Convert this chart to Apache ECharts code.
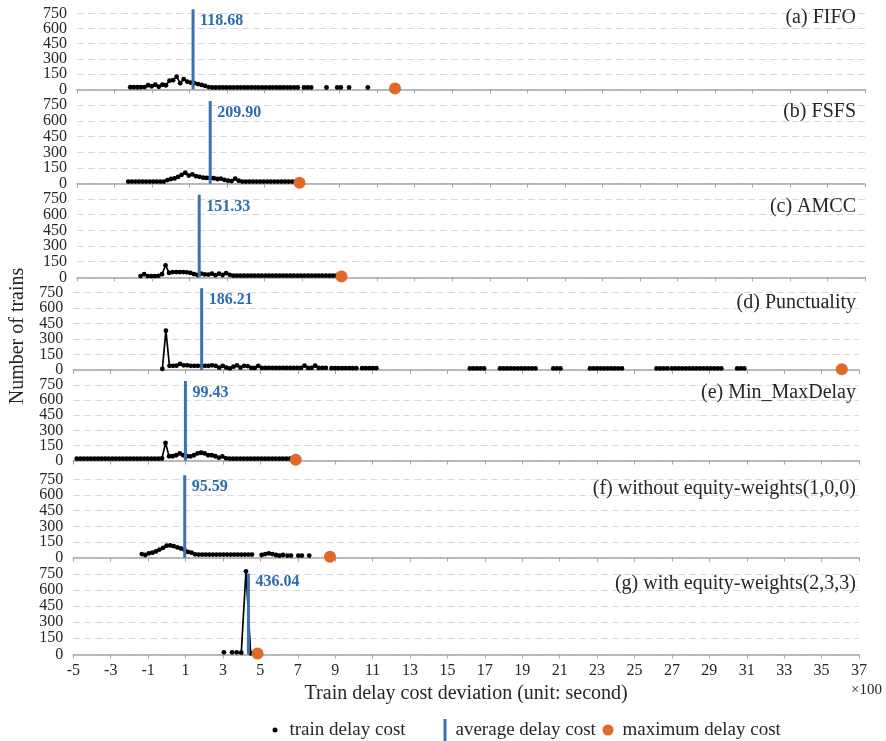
<!DOCTYPE html>
<html><head><meta charset="utf-8">
<script src="https://cdn.jsdelivr.net/npm/echarts@6/dist/echarts.min.js"></script>
<style>html,body{margin:0;padding:0;background:#fff}#c{width:886px;height:741px}</style>
</head><body><div id="c"></div>
<script>
// ---------------- data ----------------
const panelTitles = ['(a) FIFO','(b) FSFS','(c) AMCC','(d) Punctuality','(e) Min_MaxDelay','(f) without equity-weights(1,0,0)','(g) with equity-weights(2,3,3)'];
const avgDelay = [118.68, 209.90, 151.33, 186.21, 99.43, 95.59, 436.04];      // seconds
const maxDelayX = [11.95, 6.86, 9.10, 36.08, 6.89, 8.72, 4.85];               // ×100 s
const xTickLabels = [-5,-3,-1,1,3,5,7,9,11,13,15,17,19,21,23,25,27,29,31,33,35,37];
const yTickLabels = [0,150,300,450,600,750];
const binWidth = [0.19,0.19,0.19,0.19,0.19,0.19,0.25];                         // ×100 s
// runs of consecutive bins: [first bin x (×100 s), [number of trains ...]]
const runsA = [
  [-2.16,[20,20,20,20,22,40,30,45,25,45,40,85,90,125,60,100,75,65,60,52,43,33,22,
          18,18,18,18,18,18,18,18,18,18,18,18,18,18,18,18,18,18,18,18,18,18,18,18,18]],
  [7.10,[18,18,18]],[8.30,[18]],[8.87,[18,18]],[9.50,[18]],[10.50,[18]]
];
const runsB = [
  [-2.27,[20,20,20,20,20,20,20,20,20,20,20,
          35,45,50,65,85,105,78,90,72,66,58,55,55,52,45,48,36,28,25,48,28,
          20,20,20,20,20,20,20,20,20,20,20,20,20,20,20,20]]
];
const runsC = [
  [-1.61,[12,30,12,12,12,14,30,115,42,50,50,50,50,48,42,30,22,35,28,26,35,20,35,22,40,24,
          16,16,16,16,16,16,16,16,16,16,16,16,16,16,16,16,16,16,16,16,16,16,16,16,16,16,16,16,16,16]]
];
const runsD = [
  [-0.24,[10,380,40,40,42,60,45,45,40,40,40,40,40,40,45,40,22,40,22,15,32,45,22,40,38,20,20,40,
          20,20,20,20,20,20,20,20,20,20,20,20,42,20,20,42,20,20,20]],
  [8.80,[18,18,18,18,18,18,18,18]],[10.44,[18,18,18,18,18]],
  [16.20,[15,15,15,15,15]],[17.81,[15,15,15,15,15,15,15,15,15,15,15]],[20.66,[15,15,15]],
  [22.62,[15,15,15,15,15,15,15,15,15,15]],[26.18,[15,15,15,15]],
  [26.98,[15,15,15,15,15,15,15,15,15,15,15,15,15,15,15]],[30.49,[15,15,15]],[35.90,[15]]
];
const runsE = [
  [-4.82,[18,18,18,18,18,18,18,18,18,18,18,18,18,18,18,18,18,18,18,18,18,18,18,18,
          20,175,42,42,52,70,52,42,40,52,70,77,70,52,52,42,28,40,22,
          18,18,18,18,18,18,18,18,18,18,18,18,18,18,18,18,18,18]]
];
const runsF = [
  [-1.34,[35,26,42,48,60,78,95,115,118,110,98,88,75,55,48,32,
          30,30,30,30,30,30,30,30,30,30,30,30,30,30,30,30]],
  [5.07,[26,35,42,35,26,19,26]],[6.45,[20,20]],[7.03,[20,20]],[7.61,[20]]
];
const runsG = [
  [3.05,[18]],[3.49,[18]],[3.73,[18,15,775,10]]
];
const panelRuns = [runsA, runsB, runsC, runsD, runsE, runsF, runsG];

// ---------------- layout ----------------
const FONT = '"Liberation Serif","Times New Roman",serif';
const TXT = '#262626';
const gridLeft = [77,77,77,73.3,73.3,73.3,73.3];
const gridRight = [21,21,21,27,27,27,27];
const zeroY = [89.3,183.7,277.3,370,460.5,557.7,654.3];
const h750 = [76,78.5,78.3,77.7,75.5,78.3,80.3];
const titleY = [18,112,207,302.7,393,489,584];
const avgTop = [790,790,790,790,790,790,755];
const Y_MAX = 800;

function buildLine(runs, bin) {
  const pts = [];
  runs.forEach((r, k) => {
    if (k > 0) pts.push([r[0] - bin / 2, '-']);
    r[1].forEach((v, i) => pts.push([+(r[0] + i * bin).toFixed(3), v]));
  });
  return pts;
}

const yLabelStyle = {margin: 10, fontSize: 16, fontFamily: FONT, color: TXT};
const grid = [], xAxis = [], yAxis = [], series = [], title = [];
for (let i = 0; i < 7; i++) {
  const H = h750[i] * Y_MAX / 750;
  grid.push({left: gridLeft[i], right: gridRight[i], top: zeroY[i] - H, height: H});
  const last = i === 6;
  xAxis.push({
    gridIndex: i, type: 'value', min: xTickLabels[0], max: xTickLabels[xTickLabels.length - 1], interval: 2,
    axisLine: {show: true, onZero: false, lineStyle: {color: '#a6a6a6', width: 1.5}},
    axisTick: {show: true, length: 4, lineStyle: {color: '#a6a6a6', width: 1}},
    axisLabel: {show: last, margin: 8, fontSize: 16, fontFamily: FONT, color: TXT},
    splitLine: {show: false},
    name: last ? 'Train delay cost deviation (unit: second)' : '',
    nameLocation: 'middle', nameGap: 29,
    nameTextStyle: {fontSize: 20, fontFamily: FONT, color: TXT}
  });
  // main value axis: gridlines and labels 150..750
  yAxis.push({
    gridIndex: i, type: 'value', position: 'left', min: yTickLabels[0], max: Y_MAX, interval: 150,
    axisLine: {show: false}, axisTick: {show: false},
    axisLabel: Object.assign({showMinLabel: false, showMaxLabel: false}, yLabelStyle),
    splitLine: {show: true, showMaxLine: false, lineStyle: {color: '#d9d9d9', type: [7, 4], width: 1}}
  });
  // companion axis on the same scale carrying only the "0" label
  yAxis.push({
    gridIndex: i, type: 'value', position: 'left', offset: 0, min: yTickLabels[0], max: Y_MAX, interval: Y_MAX,
    axisLine: {show: false}, axisTick: {show: false}, splitLine: {show: false},
    axisLabel: Object.assign({showMinLabel: true, showMaxLabel: false}, yLabelStyle)
  });
  title.push({
    text: panelTitles[i], right: 30, top: titleY[i] - 10, padding: 0,
    textStyle: {fontSize: 20, fontFamily: FONT, fontWeight: 'normal', color: TXT, lineHeight: 20}
  });
  const ax = avgDelay[i] / 100;
  const yi = 2 * i;
  series.push({
    name: 'train delay cost', type: 'line', xAxisIndex: i, yAxisIndex: yi,
    data: buildLine(panelRuns[i], binWidth[i]),
    symbol: 'circle', symbolSize: 4.8, showSymbol: true, showAllSymbol: true, connectNulls: false,
    lineStyle: {color: '#000', width: 1.7}, itemStyle: {color: '#000', opacity: 1}, z: 2, silent: true
  });
  series.push({
    name: 'average delay cost', type: 'line', xAxisIndex: i, yAxisIndex: yi,
    data: [[ax, 0], [ax, avgTop[i]]], symbol: 'none',
    lineStyle: {color: '#3A72B4', width: 3}, itemStyle: {color: '#3A72B4', opacity: 1}, z: 3, silent: true
  });
  series.push({
    name: 'avg label', type: 'scatter', xAxisIndex: i, yAxisIndex: yi,
    data: [[ax, 675]], symbolSize: 0, silent: true, z: 5,
    itemStyle: {opacity: 1},
    label: {show: true, position: 'right', distance: 7, formatter: avgDelay[i].toFixed(2), opacity: 1,
      fontSize: 16, fontWeight: 'bold', fontFamily: FONT, color: '#2B6CB0'}
  });
  series.push({
    name: 'maximum delay cost', type: 'scatter', xAxisIndex: i, yAxisIndex: yi,
    data: [[maxDelayX[i], 8]], symbolSize: 12, itemStyle: {color: '#E0692A', opacity: 1}, z: 4, silent: true
  });
}

const legendText = {fontSize: 19, fontFamily: FONT, color: TXT, lineHeight: 22};
const option = {
  animation: false,
  backgroundColor: '#fff',
  title: title,
  grid: grid, xAxis: xAxis, yAxis: yAxis, series: series,
  legend: [
    {data: ['train delay cost'], left: 272.5, top: 719, padding: 0, icon: 'circle', itemWidth: 5, itemHeight: 5,
     selectedMode: false, textStyle: Object.assign({padding: [0, 0, 0, 7]}, legendText)},
    {data: ['average delay cost'], left: 443.5, top: 719, padding: 0, icon: 'rect', itemWidth: 3, itemHeight: 22,
     selectedMode: false, textStyle: Object.assign({padding: [0, 0, 0, 4]}, legendText)},
    {data: ['maximum delay cost'], left: 602.5, top: 719, padding: 0, icon: 'circle', itemWidth: 11, itemHeight: 11,
     selectedMode: false, textStyle: Object.assign({padding: [0, 0, 0, 4]}, legendText)}
  ],
  graphic: [
    {type: 'text', x: 18, y: 336, rotation: Math.PI / 2,
     style: {text: 'Number of trains', font: '20px ' + FONT, fill: TXT, textAlign: 'center', textVerticalAlign: 'middle'}},
    {type: 'text', left: 851, top: 683,
     style: {text: '×100', font: '15px ' + FONT, fill: TXT}}
  ]
};
const chart = echarts.init(document.getElementById('c'));
chart.setOption(option);
</script>
</body></html>
